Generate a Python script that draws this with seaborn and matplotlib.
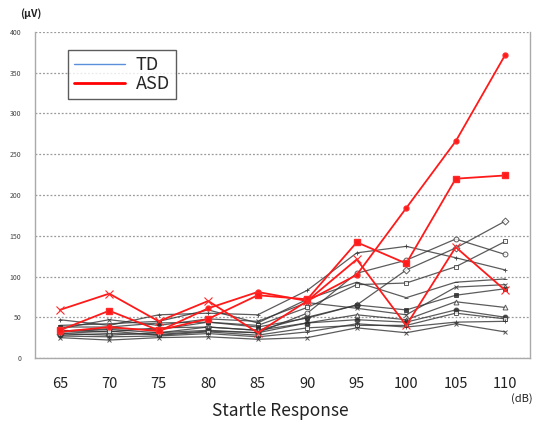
import numpy as np
import pandas as pd
import matplotlib
matplotlib.use("Agg")
import matplotlib.pyplot as plt
from matplotlib.lines import Line2D
import seaborn as sns

sns.set_style("white")
plt.rcParams['font.family'] = ['Noto Sans CJK JP', 'DejaVu Sans']

db_levels = ["65", "70", "75", "80", "85", "90", "95", "100", "105", "110"]

# ASD (red)
asd_dot = [32, 38, 33, 61, 81, 70, 102, 184, 266, 372]
asd_square = [34, 58, 34, 48, 77, 72, 142, 116, 220, 224]
asd_x = [59, 79, 45, 70, 31, 70, 121, 40, 136, 83]

# TD (black)
td_1 = [30, 28, 31, 38, 34, 50, 65, 108, 135, 168]
td_2 = [33, 36, 35, 44, 40, 62, 90, 92, 112, 143]
td_3 = [28, 30, 29, 33, 31, 55, 104, 120, 146, 127]
td_4 = [47, 40, 53, 55, 53, 83, 129, 137, 123, 108]
td_5 = [40, 42, 45, 59, 43, 72, 93, 74, 93, 97]
td_6 = [36, 47, 40, 48, 45, 68, 61, 53, 87, 90]
td_7 = [38, 38, 43, 44, 38, 49, 65, 59, 77, 85]
td_8 = [34, 32, 37, 38, 34, 43, 53, 47, 69, 62]
td_9 = [32, 35, 31, 34, 31, 43, 47, 44, 59, 50]
td_10 = [30, 33, 28, 32, 28, 37, 40, 40, 55, 48]
td_11 = [27, 26, 27, 30, 26, 32, 42, 38, 44, 45]
td_12 = [25, 22, 25, 26, 23, 25, 37, 31, 42, 32]

td_series = [td_1, td_2, td_3, td_4, td_5, td_6, td_7, td_8, td_9, td_10, td_11, td_12]
td_markers = ['D', 's', 'o', '+', '_', 'x', 's', '^', 'o', 's', '+', 'x']
td_filled = [False, False, False, True, True, True, True, False, True, False, True, True]
asd_series = [asd_dot, asd_square, asd_x]
asd_markers = ['o', 's', 'x']

rows = []
for i, s in enumerate(td_series):
    for j, v in enumerate(s):
        rows.append(dict(subject=f"TD{i}", group="TD", pos=j, val=v))
for i, s in enumerate(asd_series):
    for j, v in enumerate(s):
        rows.append(dict(subject=f"ASD{i}", group="ASD", pos=j, val=v))
df = pd.DataFrame(rows)

fig = plt.figure(figsize=(5.4, 4.23), dpi=100)
ax = fig.add_axes([35/540, 1-358/423, 495/540, 326/423])

# TD lines
for i in range(len(td_series)):
    d = df[df.subject == f"TD{i}"]
    m = td_markers[i]
    kw = dict(marker=m, markersize=3.5, markeredgewidth=0.7, markeredgecolor='#333333')
    if m in ('+', 'x', '_'):
        kw['markerfacecolor'] = '#333333'
    elif td_filled[i]:
        kw['markerfacecolor'] = '#222222'
    else:
        kw['markerfacecolor'] = 'white'
    sns.lineplot(data=d, x='pos', y='val', ax=ax, color='#333333', lw=0.9,
                 alpha=0.8, estimator=None, legend=False, **kw)

# ASD lines
asd_ms = [3.5, 5, 6]
asd_mew = [1.0, 1.0, 0.8]
for i in range(len(asd_series)):
    d = df[df.subject == f"ASD{i}"]
    sns.lineplot(data=d, x='pos', y='val', ax=ax, color='#ff1a1a', lw=1.3,
                 marker=asd_markers[i], markersize=asd_ms[i], markeredgecolor='#ff2a2a',
                 markerfacecolor='#ff1a1a', markeredgewidth=asd_mew[i],
                 estimator=None, legend=False, zorder=5)

ax.set_xlim(-0.5, 9.5)
ax.set_ylim(0, 400)
ax.set_yticks(np.arange(0, 401, 50))
ax.set_xticks(range(len(db_levels)))
ax.set_xticklabels(db_levels, fontsize=10.5, color='#222222')
ax.set_xticks(np.arange(-0.5, 10, 1), minor=True)
ax.tick_params(axis='x', which='major', length=0, pad=14)
ax.tick_params(axis='x', which='minor', length=4, direction='out', color='#999999', width=0.8)
ax.tick_params(axis='y', labelsize=5, colors='#444444', length=4, direction='out', width=0.6,
               pad=6)
for t in ax.get_yticklabels():
    t.set_color('#444444')
ax.tick_params(axis='y', color='#999999')
ax.set_xlabel("")
ax.set_ylabel("")

ax.yaxis.grid(True, linestyle=(0, (1.5, 1.5)), color='#9a9a9a', lw=0.9)
ax.xaxis.grid(False)
ax.set_axisbelow(True)

for side in ['left', 'bottom', 'right']:
    ax.spines[side].set_color('#aaaaaa')
    ax.spines[side].set_linewidth(1.0)
ax.spines['top'].set_visible(False)

handles = [Line2D([], [], color='#5b8fd9', lw=1.0),
           Line2D([], [], color='#ff0000', lw=2.0)]
leg = ax.legend(handles, ["TD", "ASD"], loc='upper left', bbox_to_anchor=(0.067, 0.945),
                fontsize=13, frameon=True, fancybox=False, handlelength=2.8,
                handletextpad=0.6, borderpad=0.35, labelspacing=0.05, borderaxespad=0)
leg.get_frame().set_edgecolor('#333333')
leg.get_frame().set_linewidth(1.0)

fig.text(20/540, 1-14/423, "(μV)", fontsize=7.5, ha='left', va='center', color='#222222',
         fontweight='bold')
fig.text(522/540, 1-399/423, "(dB)", fontsize=8, ha='center', va='center', color='#222222')
fig.text(280/540, 1-411/423, "Startle Response", fontsize=12.5, ha='center', va='center',
         color='#222222')

fig.savefig("out.png", dpi=100)
